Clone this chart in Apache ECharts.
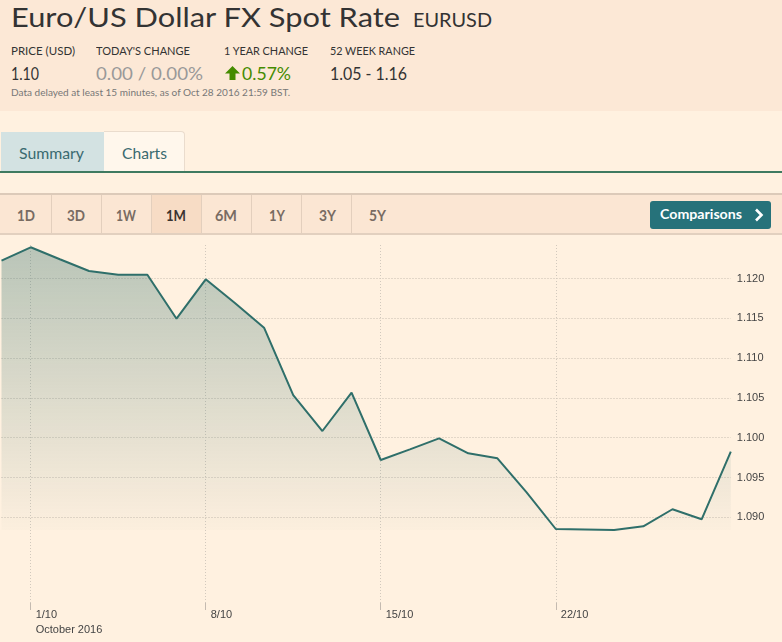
<!DOCTYPE html>
<html><head><meta charset="utf-8">
<script src="https://cdn.jsdelivr.net/npm/echarts@6/dist/echarts.min.js"></script>
<style>
html,body{margin:0;padding:0;width:782px;height:642px;overflow:hidden;background:#fff1e0;font-family:Lato,"Open Sans",sans-serif;}
#hdr{position:absolute;left:0;top:0;width:782px;height:111px;background:#fce8d6;}
.t{position:absolute;white-space:nowrap;transform-origin:0 0;line-height:1;display:inline-block;}
#tabS{position:absolute;left:1px;top:132px;width:103px;height:40px;background:#d3e2e2;}
#tabC{position:absolute;left:104px;top:131px;width:80px;height:40px;background:#fff7ec;border:1px solid #eadccd;border-bottom:none;border-left:none;border-top-right-radius:4px;}
#tabLine{position:absolute;left:0;top:171px;width:782px;height:1.5px;background:#3f7a60;}
#bar{position:absolute;left:0;top:193px;width:782px;height:38px;background:#fbe6d3;border-top:2px solid #dccab9;border-bottom:2px solid #e2d0bf;}
.sep{position:absolute;top:195px;width:1px;height:38px;background:#e3cfbd;}
#act{position:absolute;left:152px;top:195px;width:50px;height:38px;background:#f7dcc5;}
#cmp{position:absolute;left:650px;top:201px;width:121px;height:28px;background:#26727a;border-radius:3px;}
.b{font-weight:bold;}
#chart{position:absolute;left:0;top:0;width:782px;height:642px;}
</style></head>
<body>
<div id="hdr"></div>
<div class="t" data-w="389" style="left:11px;top:4px;font-size:26.5px;color:#333;">Euro/US Dollar FX Spot Rate</div>
<div class="t" data-w="79" style="left:413px;top:10px;font-size:19.5px;color:#333;">EURUSD</div>
<div class="t" data-w="64" style="left:11px;top:46px;font-size:10.5px;color:#333;">PRICE (USD)</div>
<div class="t" data-w="94" style="left:96px;top:46px;font-size:10.5px;color:#333;">TODAY'S CHANGE</div>
<div class="t" data-w="84" style="left:224px;top:46px;font-size:10.5px;color:#333;">1 YEAR CHANGE</div>
<div class="t" data-w="85" style="left:330px;top:46px;font-size:10.5px;color:#333;">52 WEEK RANGE</div>
<div class="t" data-w="28" style="left:11px;top:64px;font-size:18px;color:#333;">1.10</div>
<div class="t" data-w="107" style="left:96px;top:64px;font-size:18px;color:#999;">0.00 / 0.00%</div>
<svg style="position:absolute;left:225px;top:66px" width="15" height="14"><polygon points="7.5,0 15,7.5 10.5,7.5 10.5,14 4.5,14 4.5,7.5 0,7.5" fill="#458b00"/></svg>
<div class="t" data-w="49" style="left:242px;top:64px;font-size:18px;color:#458b00;">0.57%</div>
<div class="t" data-w="77" style="left:330px;top:64px;font-size:18px;color:#333;">1.05 - 1.16</div>
<div class="t" data-w="279" style="left:11px;top:88px;font-size:9.8px;color:#777;">Data delayed at least 15 minutes, as of Oct 28 2016 21:59 BST.</div>

<div id="tabS"></div><div id="tabC"></div><div id="tabLine"></div>
<div class="t" data-w="65" style="left:19px;top:145px;font-size:16px;color:#3a6a70;">Summary</div>
<div class="t" data-w="45" style="left:122px;top:145px;font-size:16px;color:#3a6a70;">Charts</div>

<div id="bar"></div>
<div id="act"></div>
<div class="sep" style="left:51px"></div><div class="sep" style="left:101px"></div><div class="sep" style="left:151px"></div><div class="sep" style="left:201px"></div><div class="sep" style="left:251px"></div><div class="sep" style="left:301px"></div><div class="sep" style="left:351px"></div>
<div class="t b" data-w="18" style="left:17px;top:207px;font-size:16px;color:#786b62;">1D</div>
<div class="t b" data-w="18" style="left:67px;top:207px;font-size:16px;color:#786b62;">3D</div>
<div class="t b" data-w="20" style="left:116px;top:207px;font-size:16px;color:#786b62;">1W</div>
<div class="t b" data-w="20" style="left:166px;top:207px;font-size:16px;color:#3a3330;">1M</div>
<div class="t b" data-w="22" style="left:215px;top:207px;font-size:16px;color:#786b62;">6M</div>
<div class="t b" data-w="16" style="left:269px;top:207px;font-size:16px;color:#786b62;">1Y</div>
<div class="t b" data-w="17" style="left:319px;top:207px;font-size:16px;color:#786b62;">3Y</div>
<div class="t b" data-w="17" style="left:369px;top:207px;font-size:16px;color:#786b62;">5Y</div>
<div id="cmp"></div>
<div class="t" data-w="82" style="left:660px;top:208px;font-size:13.5px;color:#fff;font-weight:bold;">Comparisons</div>
<svg style="position:absolute;left:754px;top:208px" width="10" height="14"><polyline points="2,1.5 7.5,7 2,12.5" fill="none" stroke="#fff" stroke-width="2.6"/></svg>

<div id="chart"></div>
<script>
const categories = ['30/9','1/10','2/10','3/10','4/10','5/10','6/10','8/10','9/10','10/10','11/10','12/10','13/10','15/10','16/10','17/10','18/10','19/10','20/10','22/10','23/10','24/10','25/10','26/10','27/10','28/10'];
const eurusd = [1.12224,1.12392,1.12242,1.12094,1.12048,1.12048,1.11495,1.11990,1.11692,1.11382,1.10536,1.10084,1.10565,1.09720,1.09854,1.09992,1.09804,1.09741,1.09314,1.08853,1.08847,1.08840,1.08887,1.09101,1.08975,1.09824];
const xTickLabels = ['1/10','8/10','15/10','22/10'];
const monthLabel = 'October 2016';
const yTickLabels = ['1.090','1.095','1.100','1.105','1.110','1.115','1.120'];
const yMin = 1.075, yMax = 1.125, yStep = 0.005;

// fit header texts to measured widths
document.querySelectorAll('.t').forEach(el => {
  const w = parseFloat(el.dataset.w);
  const a = el.getBoundingClientRect().width;
  if (w && a) el.style.transform = 'scaleX(' + (w / a) + ')';
});

const gridColor = '#c6bdb1';
const vGridColor = '#d2c9bd';
const splitColors = [];
for (let k = 0; k <= Math.round((yMax - yMin) / yStep); k++) {
  const v = (yMin + k * yStep).toFixed(3);
  splitColors.push(yTickLabels.includes(v) ? gridColor : 'rgba(0,0,0,0)');
}
const isTick = (idx, val) => xTickLabels.includes(val);

const chart = echarts.init(document.getElementById('chart'), null, {renderer: 'canvas'});
chart.setOption({
  backgroundColor: 'transparent',
  animation: false,
  grid: [
    {left: 1.5, right: 51.2, top: 238.7, height: 398},
    {left: 1.5, right: 51.2, top: 245, height: 358}
  ],
  xAxis: [
    {gridIndex: 0, type: 'category', data: categories, boundaryGap: false, show: false},
    {gridIndex: 1, type: 'category', data: categories, boundaryGap: false,
     axisLine: {show: false},
     axisTick: {show: true, interval: isTick, length: 7, lineStyle: {color: '#c4bab0'}},
     axisLabel: {interval: isTick, align: 'left', padding: [0, 0, 0, 5], margin: 4,
       fontFamily: 'Arial', fontSize: 11, color: '#444', lineHeight: 15,
       formatter: (v, i) => v === xTickLabels[0] ? v + '\n' + monthLabel : v},
     splitLine: {show: true, interval: isTick, lineStyle: {type: [1, 2], color: vGridColor}}}
  ],
  yAxis: [
    {gridIndex: 0, type: 'value', position: 'right', min: yMin, max: yMax, interval: yStep,
     axisLine: {show: false}, axisTick: {show: false},
     axisLabel: {margin: 6, fontFamily: 'Arial', fontSize: 11, color: '#444',
       formatter: v => yTickLabels.includes(v.toFixed(3)) ? v.toFixed(3) : ''},
     splitLine: {show: true, lineStyle: {type: [1, 2], color: splitColors}}},
    {gridIndex: 1, type: 'value', show: false, splitLine: {show: false}}
  ],
  series: [{
    type: 'line', xAxisIndex: 0, yAxisIndex: 0, data: eurusd,
    symbol: 'none', smooth: false,
    lineStyle: {color: '#2f6f6a', width: 2},
    areaStyle: {origin: Math.min(...eurusd),
      color: new echarts.graphic.LinearGradient(0, 0, 0, 1, [
        {offset: 0, color: 'rgba(47,110,105,0.48)'},
        {offset: 1, color: 'rgba(47,110,105,0.02)'}
      ])}
  }]
});
</script>
</body></html>
